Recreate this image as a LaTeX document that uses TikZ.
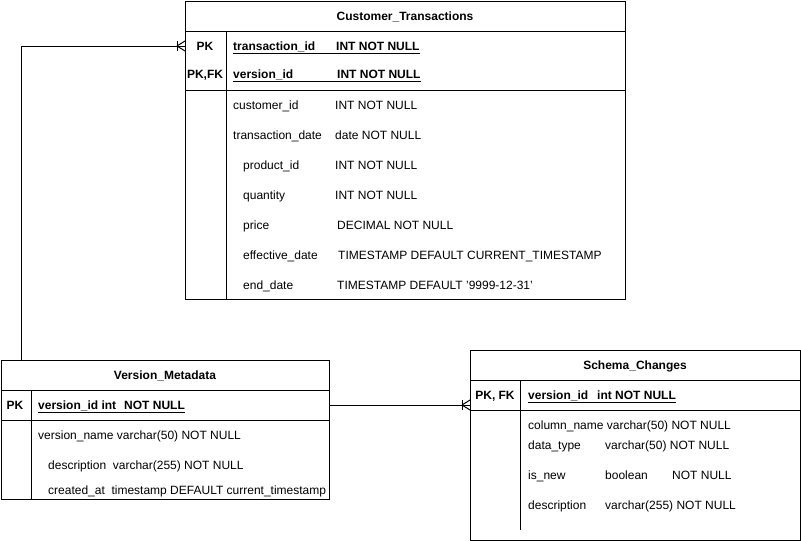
\documentclass[tikz,border=0pt]{standalone}
\usepackage{fontspec}
\setmainfont{Liberation Sans}
\usetikzlibrary{calc,positioning}

\tikzset{
  tbl/.style={draw, line width=1pt, inner sep=0pt, anchor=north west},
  txt/.style={inner sep=0pt, text height=10pt, text depth=2pt, font=\fontsize{12}{14}\selectfont},
  ttl/.style={txt, font=\fontsize{12}{14}\selectfont\bfseries},
  fld/.style={txt, anchor=west},
  keyfld/.style={fld, font=\fontsize{12}{14}\selectfont\bfseries},
}

% crow's foot (one or many) at an entity edge, line coming from the left
\newcommand{\crowfoot}[1]{%
  \draw[line width=1pt] ($(#1)+(-8,-5)$) -- ($(#1)+(-8,5)$);
  \draw[line width=1pt] ($(#1)+(-8,0)$) -- ($(#1)+(0,-5)$)
                        ($(#1)+(-8,0)$) -- ($(#1)+(0,5)$);
}

\begin{document}
\begin{tikzpicture}[x=1pt, y=-1pt]
    \useasboundingbox (0,0) rectangle (801,541);

    % Customer_Transactions
    \node[tbl, minimum width=440pt, minimum height=298pt] (ct) at (185,1) {};
    \draw[line width=1pt] (185,31) -- (625,31);
    \draw[line width=1pt] (185,90) -- (625,90);
    \draw[line width=1pt] (226,31) -- (226,299);
    \node[ttl] (ct-title) at (405,16) {Customer\_Transactions};
    \node[ttl] (ct-pk1) at (205,46) {PK};
    \node[ttl] (ct-pk2) at (205,74) {PK,FK};
    \node[keyfld] (ct-k1) at (233,46) {\underline{\makebox[103pt][l]{transaction\_id}INT NOT NULL}};
    \node[keyfld] (ct-k2) at (233,74) {\underline{\makebox[104pt][l]{version\_id}INT NOT NULL}};
    \foreach \y/\n/\t/\nx/\tx in {105/customer\_id/INT NOT NULL/233/335,
                                  135/transaction\_date/date NOT NULL/233/335,
                                  165/product\_id/INT NOT NULL/243/335,
                                  195/quantity/INT NOT NULL/243/335,
                                  225/price/DECIMAL NOT NULL/243/337,
                                  255/effective\_date/TIMESTAMP DEFAULT CURRENT\_TIMESTAMP/243/338,
                                  285/end\_date/TIMESTAMP DEFAULT '9999-12-31'/243/337} {
        \node[fld] (ct-n\y) at (\nx,\y) {\n};
        \node[fld] (ct-t\y) at (\tx,\y) {\t};
    }

    % Version_Metadata
    \node[tbl, minimum width=328pt, minimum height=139pt] (vm) at (1,360) {};
    \draw[line width=1pt] (1,390) -- (329,390);
    \draw[line width=1pt] (1,420) -- (329,420);
    \draw[line width=1pt] (31,390) -- (31,499);
    \node[ttl] (vm-title) at (165,375) {Version\_Metadata};
    \node[ttl] (vm-pk) at (15,405) {PK};
    \node[keyfld] (vm-k) at (38,405) {\underline{\makebox[86pt][l]{version\_id int}NOT NULL}};
    \node[fld] (vm-r1) at (38,435) {version\_name varchar(50) NOT NULL};
    \node[fld] (vm-r2) at (48,465) {description\ \ varchar(255) NOT NULL};
    \node[fld] (vm-r3) at (48,490) {created\_at\ \ timestamp DEFAULT current\_timestamp};

    % Schema_Changes
    \node[tbl, minimum width=330pt, minimum height=190pt] (sc) at (470,350) {};
    \draw[line width=1pt] (470,380) -- (800,380);
    \draw[line width=1pt] (470,410) -- (800,410);
    \draw[line width=1pt] (520,380) -- (520,530);
    \node[ttl] (sc-title) at (635,365) {Schema\_Changes};
    \node[ttl] (sc-pk) at (495,395) {PK, FK};
    \node[keyfld] (sc-k) at (528,395) {\underline{\makebox[69pt][l]{version\_id}int NOT NULL}};
    \node[fld] (sc-r1) at (528,425) {column\_name varchar(50) NOT NULL};
    \node[fld] (sc-n2) at (528,445) {data\_type};
    \node[fld] (sc-t2) at (605,445) {varchar(50) NOT NULL};
    \node[fld] (sc-n3) at (528,475) {is\_new};
    \node[fld] (sc-t3) at (605,475) {boolean};
    \node[fld] (sc-u3) at (672,475) {NOT NULL};
    \node[fld] (sc-n4) at (528,505) {description};
    \node[fld] (sc-t4) at (605,505) {varchar(255) NOT NULL};

    % relations
    \coordinate (vm-top) at ([xshift=20pt]vm.north west);
    \coordinate (ct-in) at (ct.west |- ct-pk1);
    \coordinate (vm-out) at (vm.east |- vm-pk);
    \coordinate (sc-in) at (sc.west |- vm-pk);
    \draw[line width=1pt] (vm-top) |- (ct-in);
    \draw[line width=1pt] (vm-out) -- (sc-in);
    \crowfoot{ct-in}
    \crowfoot{sc-in}
\end{tikzpicture}
\end{document}
